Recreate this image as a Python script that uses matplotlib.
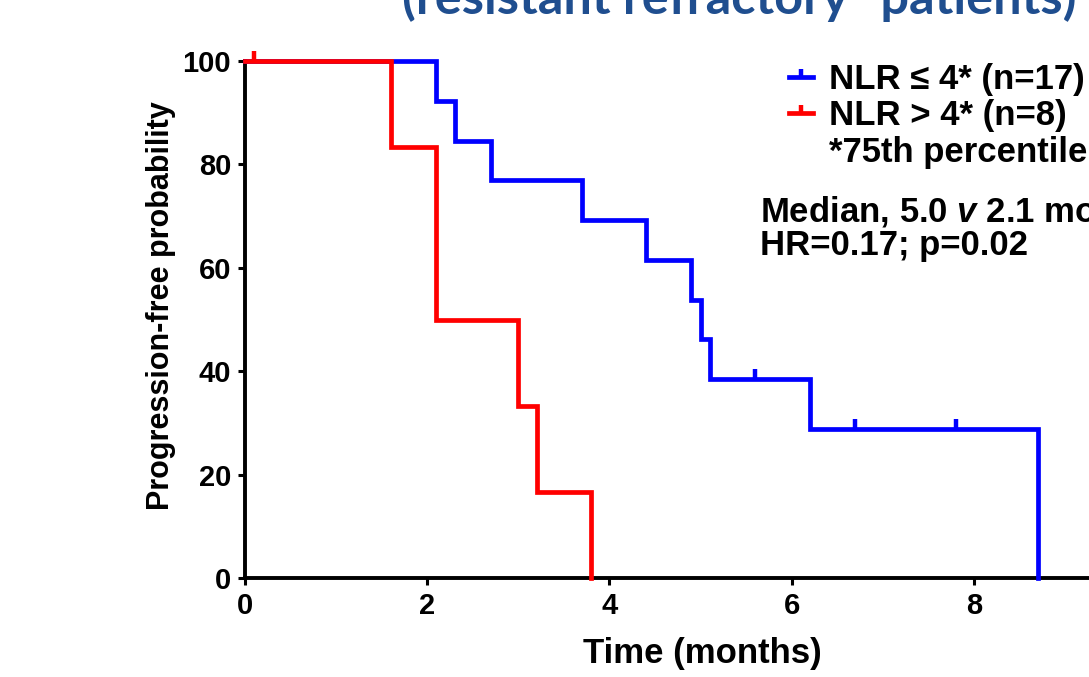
import numpy as np
import matplotlib
matplotlib.use("Agg")
import matplotlib.pyplot as plt
from matplotlib.path import Path
from matplotlib.lines import Line2D

# ---- data ----
blue_times = [0, 2.1, 2.3, 2.7, 3.7, 4.4, 4.9, 5.0, 5.1, 6.2, 8.7]
blue_surv = [100, 92.3, 84.6, 76.9, 69.2, 61.5, 53.8, 46.2, 38.5, 28.8, 0]
blue_censored = [5.6, 6.7, 7.8]

red_times = [0, 1.6, 2.1, 3.0, 3.2, 3.8]
red_surv = [100, 83.3, 50, 33.3, 16.7, 0]
red_censored = [0.1]

x_ticks = [0, 2, 4, 6, 8]
y_ticks = [0, 20, 40, 60, 80, 100]

label_blue = "NLR \u2264 4* (n=17)"
label_red = "NLR > 4* (n=8)"
label_note = "*75th percentile"
median_line1 = r"Median, 5.0 $\mathit{v}$ 2.1 months"
median_line2 = "HR=0.17; p=0.02"
title_text = "(resistant refractory\u201d patients)"
xlabel_text = "Time (months)"
ylabel_text = "Progression-free probability"

# ---- style ----
plt.rcParams['font.family'] = ['Liberation Sans', 'DejaVu Sans']
plt.rcParams['font.weight'] = 'bold'
plt.rcParams['mathtext.fontset'] = 'custom'
plt.rcParams['mathtext.rm'] = 'Liberation Sans:bold'
plt.rcParams['mathtext.it'] = 'Liberation Sans:italic:bold'
plt.rcParams['mathtext.bf'] = 'Liberation Sans:bold'

W, H = 1089, 677
fig = plt.figure(figsize=(W / 100, H / 100), dpi=100)
fig.patch.set_facecolor('white')

x0, x_unit = 245, 91.1
y0, ytop = 578, 61
ax = fig.add_axes([x0 / W, (H - y0) / H, 10 * x_unit / W, (y0 - ytop) / H])
ax.set_xlim(0, 10)
ax.set_ylim(0, 100)

BLUE = '#0000FF'
RED = '#FF0000'
tick_up = Path([(0, -0.15), (0, 1)], [Path.MOVETO, Path.LINETO])


def censor_y(times, surv, cens):
    t = np.asarray(times)
    s = np.asarray(surv)
    idx = np.searchsorted(t, cens, side='right') - 1
    return s[idx]


LW = 3.4
ax.step(blue_times, blue_surv, where='post', color=BLUE, lw=LW,
        clip_on=False, zorder=3, solid_joinstyle='miter')
ax.plot(blue_censored, censor_y(blue_times, blue_surv, blue_censored),
        ls='none', marker=tick_up, ms=15, mew=3.2, color=BLUE,
        clip_on=False, zorder=3)
ax.step(red_times, red_surv, where='post', color=RED, lw=LW,
        clip_on=False, zorder=4, solid_joinstyle='miter')
ax.plot(red_censored, censor_y(red_times, red_surv, red_censored),
        ls='none', marker=tick_up, ms=15, mew=3.2, color=RED,
        clip_on=False, zorder=4)

for s in ['top', 'right']:
    ax.spines[s].set_visible(False)
for s in ['left', 'bottom']:
    ax.spines[s].set_linewidth(2.8)
    ax.spines[s].set_color('black')
    ax.spines[s].set_capstyle('projecting')

ax.set_xticks(x_ticks)
ax.set_yticks(y_ticks)
ax.tick_params(direction='out', length=5, width=2.2, labelsize=21, pad=5,
               color='black')
for lab in ax.get_xticklabels() + ax.get_yticklabels():
    lab.set_fontweight('bold')

ax.set_xlabel(xlabel_text, fontsize=25, fontweight='bold')
ax.xaxis.label.set_verticalalignment('baseline')
ax.xaxis.set_label_coords(0.502, (y0 - 663) / (y0 - ytop))
ax.set_ylabel(ylabel_text, fontsize=22, fontweight='bold')
ax.yaxis.set_label_coords((176 - x0) / (10 * x_unit), 0.526)

# legend
handles = [
    Line2D([], [], color=BLUE, lw=LW, marker=tick_up, ms=12, mew=3.2),
    Line2D([], [], color=RED, lw=LW, marker=tick_up, ms=12, mew=3.2),
    Line2D([], [], color='none', lw=0),
]
leg = ax.legend(handles, [label_blue, label_red, label_note],
                loc='upper left', bbox_to_anchor=(789 / W, 1 - 63 / H),
                bbox_transform=fig.transFigure, frameon=False,
                fontsize=25, handlelength=0.7, handletextpad=0.45,
                labelspacing=0.1, borderpad=0, borderaxespad=0,
                numpoints=1)
for t in leg.get_texts():
    t.set_fontweight('bold')

fig.text(760 / W, (H - 221.7) / H, median_line1, fontsize=25,
         fontweight='bold', va='baseline', ha='left')
fig.text(760 / W, (H - 255) / H, median_line2, fontsize=25,
         fontweight='bold', va='baseline', ha='left')

# title (only its lower part is visible at the top edge)
ttl = fig.text(739 / W, (H - 14) / H, title_text, fontsize=30,
               fontweight='bold', color='#1F4E8F', va='baseline',
               ha='center', family=['Lato', 'DejaVu Sans'])
fig.canvas.draw()
bb = ttl.get_window_extent()
ttl.set_fontsize(30 * 672 / bb.width)

fig.savefig('out.png', dpi=100, facecolor='white')
